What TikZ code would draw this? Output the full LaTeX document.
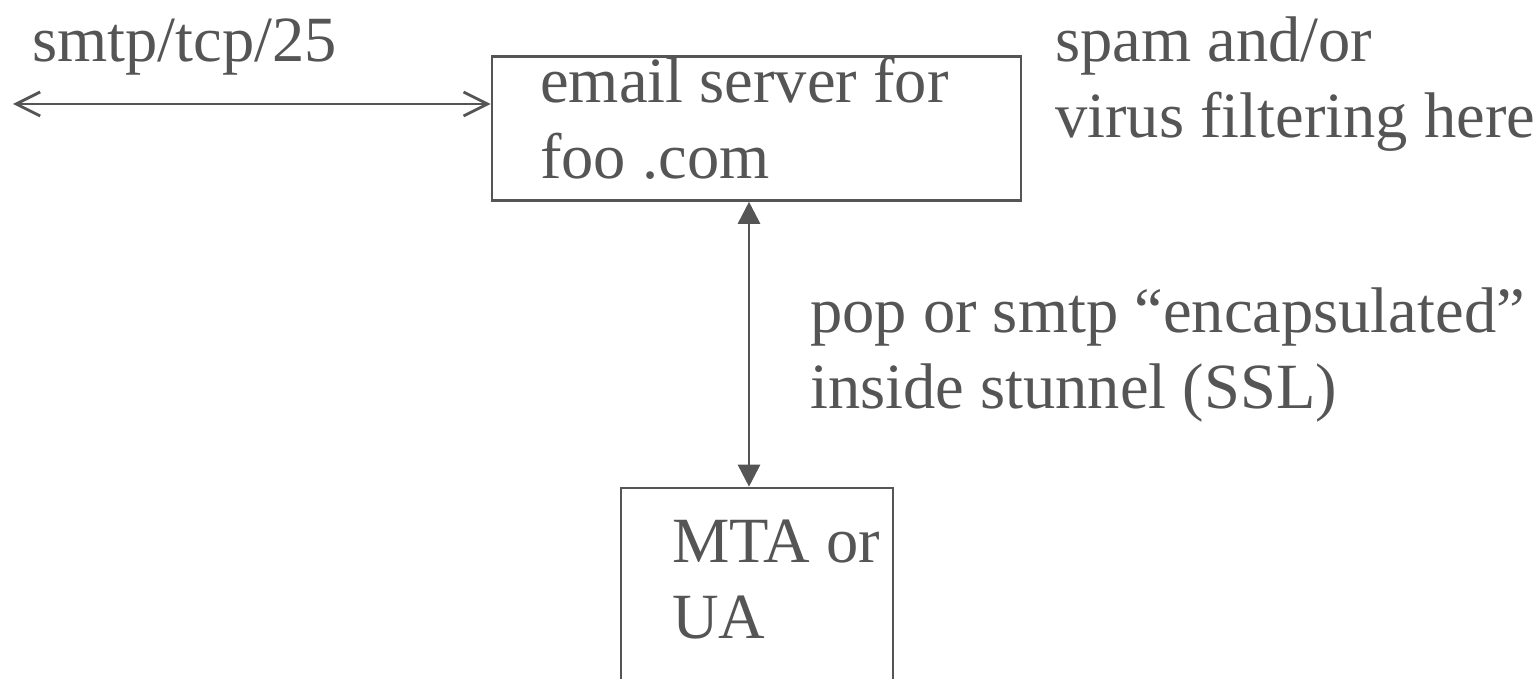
\documentclass[tikz,border=0pt]{standalone}
\usepackage{fontspec}
\setmainfont{Liberation Serif}
\usetikzlibrary{arrows.meta}
\definecolor{ink}{RGB}{85,85,85}
\begin{document}
\begin{tikzpicture}[x=1pt,y=-1pt,
  lbl/.style={text=ink, font=\fontsize{64.5}{76}\selectfont, inner sep=0pt,
              anchor=base west, align=left},
  frame/.style={draw=ink, line width=2.6pt, inner sep=0pt},
  wire/.style={draw=ink, line width=2.8pt},
  openhead/.style={{Straight Barb[length=24pt,width=24pt]}-{Straight Barb[length=24pt,width=24pt]}},
  solidhead/.style={{Triangle[length=22pt,width=22pt]}-{Triangle[length=22pt,width=22pt]}},
]
\useasboundingbox (0,0) rectangle (1536,679);
\clip (0,0) rectangle (1536,679);

% boxes
\node[frame, minimum width=529pt, minimum height=144pt] (server) at (756.5,128.5) {};
\node[frame, minimum width=272pt, minimum height=260pt] (mta) at (757,618) {};

% texts (anchored at the baseline of their last line)
\node[lbl] (port) at (32,62) {smtp/tcp/25};
\node[lbl] (servertext) at (540,179) {email server for\\foo .com};
\node[lbl] (filter) at (1055,138) {spam and/or\\virus filtering here};
\node[lbl] (tunnel) at (810,408) {pop or smtp “encapsulated”\\inside stunnel (SSL)};
\node[lbl] (mtatext) at (672,638) {MTA or\\UA};

% connectors
\coordinate (net) at (13,104);
\coordinate (axis) at (749,0);
\draw[wire, openhead] (net) -- (net -| server.west);
\draw[wire, solidhead] (axis |- server.south) -- (axis |- mta.north);
\end{tikzpicture}
\end{document}
